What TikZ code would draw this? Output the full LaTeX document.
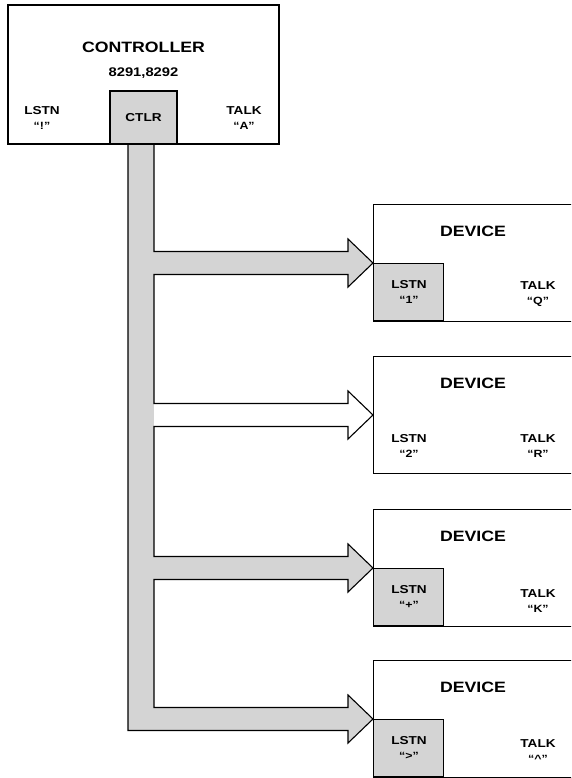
\documentclass[tikz,border=0pt]{standalone}
\usepackage{fontspec}
\setmainfont{Liberation Sans}[FakeStretch=1.18]
\usetikzlibrary{calc,backgrounds}
\definecolor{trame}{RGB}{212,212,212}

% une derivation du bus vers un appareil
\newcommand\tap[1]{-- ($(#1.west)+(-219,11.5)$) -- ($(#1.west)+(-25,11.5)$) -- ($(#1.west)+(-25,24)$) -- (#1.west) -- ($(#1.west)+(-25,-24)$) -- ($(#1.west)+(-25,-11.5)$) -- ($(#1.west)+(-219,-11.5)$)}
\newcommand\buspath{(128,144) -- ($(dev4.west)+(-245,11.5)$) \tap{dev4} \tap{dev3} \tap{dev2} \tap{dev1} -- (154,144) -- cycle}

\begin{document}
\begin{tikzpicture}[x=1pt, y=-1pt,
    box/.style={draw, rectangle, line width=1.4pt, inner sep=0pt},
    device/.style={box, anchor=west, minimum width=240pt, minimum height=117pt},
    lstnbox/.style={box, fill=trame, anchor=north west, minimum width=70pt, minimum height=57pt},
    title/.style={font=\bfseries\fontsize{15}{18}\selectfont},
    port/.style={align=center, font=\bfseries\fontsize{11.5}{15}\selectfont},
    bus/.style={line width=1.1pt, line join=miter}
]
\useasboundingbox (0,0) rectangle (571,778);
\clip (0,0) rectangle (571,778);

\node[box, minimum width=271pt, minimum height=139pt] (ctrl) at (143.5,74.5) {};
\node[title] (ctrlname) at (143.5,47) {CONTROLLER};
\node[font=\bfseries\fontsize{12.5}{15}\selectfont] (ctrlnum) at (143.5,73) {8291,8292};
\node[port] (ctrllstn) at (42,118) {LSTN\\\fontsize{10.5}{15}\selectfont “!”};
\node[port] (ctrltalk) at (244,118) {TALK\\\fontsize{10.5}{15}\selectfont “A”};
\node[box, port, fill=trame, anchor=south, minimum width=67pt, minimum height=53pt] (ctlr) at (ctrl.south) {CTLR};

\node[device] (dev1) at (373,263) {};
\node[device] (dev2) at (373,415) {};
\node[device] (dev3) at (373,568) {};
\node[device] (dev4) at (373,719) {};

\node[lstnbox] (lstn1) at (dev1.west) {};
\node[lstnbox] (lstn3) at (dev3.west) {};
\node[lstnbox] (lstn4) at (dev4.west) {};

\node[title] (name1) at ($(dev1.west)+(100,-32)$) {DEVICE};
\node[port] (listen1) at ($(dev1.west)+(36,29)$) {LSTN\\\fontsize{10.5}{15}\selectfont “1”};
\node[port] (talk1) at ($(dev1.west)+(165,31)$) {TALK\\\fontsize{10.5}{15}\selectfont “Q”};

\node[title] (name2) at ($(dev2.west)+(100,-32)$) {DEVICE};
\node[port] (listen2) at ($(dev2.west)+(36,31)$) {LSTN\\\fontsize{10.5}{15}\selectfont “2”};
\node[port] (talk2) at ($(dev2.west)+(165,31)$) {TALK\\\fontsize{10.5}{15}\selectfont “R”};

\node[title] (name3) at ($(dev3.west)+(100,-32)$) {DEVICE};
\node[port] (listen3) at ($(dev3.west)+(36,29)$) {LSTN\\\fontsize{10.5}{15}\selectfont “+”};
\node[port] (talk3) at ($(dev3.west)+(165,33)$) {TALK\\\fontsize{10.5}{15}\selectfont “K”};

\node[title] (name4) at ($(dev4.west)+(100,-32)$) {DEVICE};
\node[port] (listen4) at ($(dev4.west)+(36,29)$) {LSTN\\\fontsize{10.5}{15}\selectfont “>”};
\node[port] (talk4) at ($(dev4.west)+(165,32)$) {TALK\\\fontsize{10.5}{15}\selectfont “\textasciicircum”};

% bus (en arriere-plan)
\begin{pgfonlayer}{background}
\fill[trame] \buspath;
\fill[white] ($(dev2.west)+(-219,0)$) \tap{dev2} -- cycle;
\draw[bus] \buspath;
\end{pgfonlayer}
\end{tikzpicture}
\end{document}
